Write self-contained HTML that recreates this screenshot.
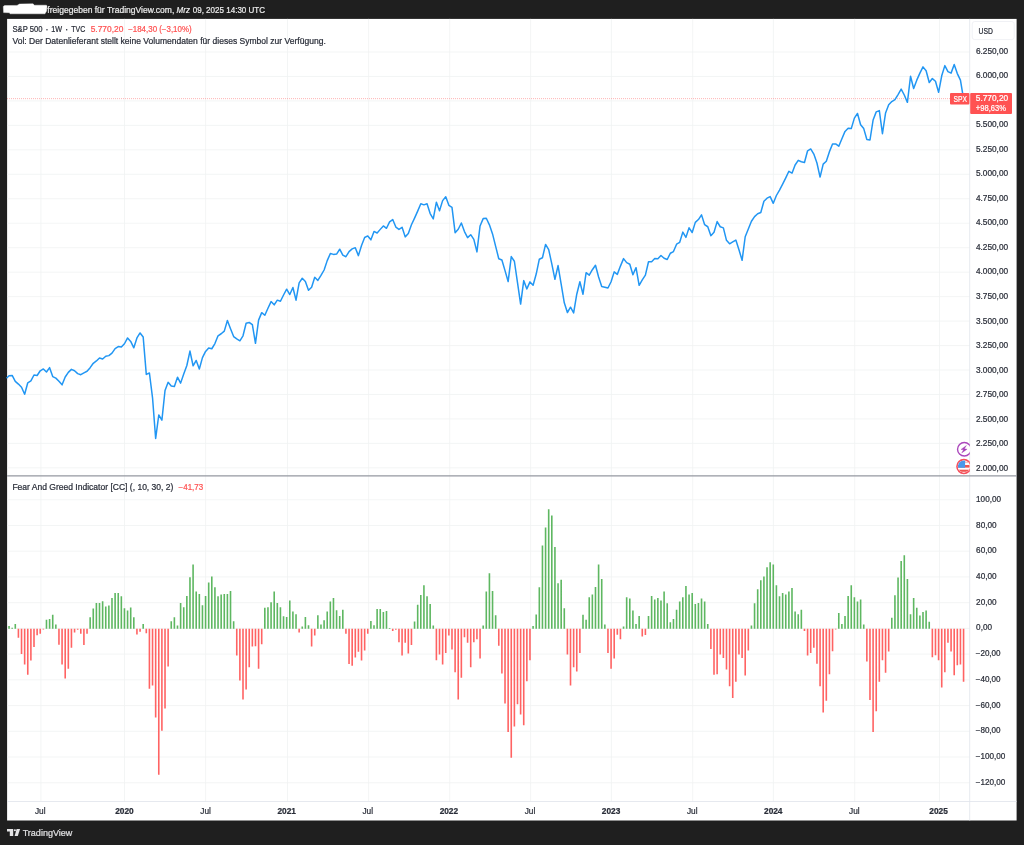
<!DOCTYPE html>
<html><head><meta charset="utf-8"><title>S&amp;P 500 chart</title>
<style>
html,body{margin:0;padding:0;background:#1f1f1f;width:1024px;height:845px;overflow:hidden}
svg{will-change:transform;filter:blur(0.35px)}
svg text{font-family:"Liberation Sans",sans-serif;stroke-width:0.22px;}
</style></head><body>
<svg width="1024" height="845" viewBox="0 0 1024 845" style="position:absolute;left:0;top:0">
<defs>
<clipPath id="cpIcons"><rect x="940" y="440" width="29.8" height="36"/></clipPath>
<clipPath id="cpFlag"><circle cx="963.85" cy="466.5" r="5.9"/></clipPath>
</defs>
<rect x="0" y="0" width="1024" height="845" fill="#1f1f1f"/>
<rect x="7.1" y="18.9" width="1009.5" height="801.6" fill="#fff"/>
<path d="M40.9 18.9V801.5 M124.5 18.9V801.5 M205.6 18.9V801.5 M287.5 18.9V801.5 M368.6 18.9V801.5 M449.7 18.9V801.5 M530.6 18.9V801.5 M611.4 18.9V801.5 M692.7 18.9V801.5 M773.4 18.9V801.5 M854.7 18.9V801.5 M939.5 18.9V801.5 M7.1 467.86H969.7 M7.1 443.40H969.7 M7.1 418.94H969.7 M7.1 394.48H969.7 M7.1 370.01H969.7 M7.1 345.55H969.7 M7.1 321.09H969.7 M7.1 296.62H969.7 M7.1 272.16H969.7 M7.1 247.70H969.7 M7.1 223.24H969.7 M7.1 198.78H969.7 M7.1 174.31H969.7 M7.1 149.85H969.7 M7.1 125.39H969.7 M7.1 100.93H969.7 M7.1 76.46H969.7 M7.1 52.00H969.7 M7.1 782.73H969.7 M7.1 757.01H969.7 M7.1 731.29H969.7 M7.1 705.57H969.7 M7.1 679.84H969.7 M7.1 654.12H969.7 M7.1 628.40H969.7 M7.1 602.68H969.7 M7.1 576.96H969.7 M7.1 551.23H969.7 M7.1 525.51H969.7 M7.1 499.79H969.7" stroke="#f0f2f3" stroke-width="0.8" fill="none"/>
<path d="M969.7 18.9V820.5M7.1 801.5H1016.6" stroke="#e0e3eb" stroke-width="0.8" fill="none"/>
<path d="M8.25 625.9h1.6V628.7h-1.6zM11.37 627.8h1.6V628.7h-1.6zM14.49 623.9h1.6V628.7h-1.6zM45.68 619.7h1.6V628.7h-1.6zM48.80 618.9h1.6V628.7h-1.6zM51.92 614.7h1.6V628.7h-1.6zM55.04 624.4h1.6V628.7h-1.6zM89.35 617.3h1.6V628.7h-1.6zM92.47 608.4h1.6V628.7h-1.6zM95.59 603.0h1.6V628.7h-1.6zM98.71 603.0h1.6V628.7h-1.6zM101.83 601.2h1.6V628.7h-1.6zM104.95 606.4h1.6V628.7h-1.6zM108.07 605.6h1.6V628.7h-1.6zM111.19 598.1h1.6V628.7h-1.6zM114.31 593.1h1.6V628.7h-1.6zM117.43 593.1h1.6V628.7h-1.6zM120.54 596.2h1.6V628.7h-1.6zM123.66 608.3h1.6V628.7h-1.6zM126.78 610.6h1.6V628.7h-1.6zM129.90 607.5h1.6V628.7h-1.6zM133.02 617.3h1.6V628.7h-1.6zM142.38 623.9h1.6V628.7h-1.6zM170.45 621.2h1.6V628.7h-1.6zM173.57 617.3h1.6V628.7h-1.6zM176.69 625.6h1.6V628.7h-1.6zM179.81 603.0h1.6V628.7h-1.6zM182.93 607.2h1.6V628.7h-1.6zM186.05 595.9h1.6V628.7h-1.6zM189.17 577.2h1.6V628.7h-1.6zM192.29 564.5h1.6V628.7h-1.6zM195.41 591.6h1.6V628.7h-1.6zM198.53 593.9h1.6V628.7h-1.6zM201.65 605.2h1.6V628.7h-1.6zM204.77 595.9h1.6V628.7h-1.6zM207.89 582.5h1.6V628.7h-1.6zM211.00 576.4h1.6V628.7h-1.6zM214.12 587.3h1.6V628.7h-1.6zM217.24 596.2h1.6V628.7h-1.6zM220.36 594.4h1.6V628.7h-1.6zM223.48 593.9h1.6V628.7h-1.6zM226.60 593.9h1.6V628.7h-1.6zM229.72 591.1h1.6V628.7h-1.6zM232.84 621.2h1.6V628.7h-1.6zM264.03 607.7h1.6V628.7h-1.6zM267.15 607.2h1.6V628.7h-1.6zM270.27 602.2h1.6V628.7h-1.6zM273.39 591.6h1.6V628.7h-1.6zM276.51 603.0h1.6V628.7h-1.6zM279.63 607.2h1.6V628.7h-1.6zM282.75 616.2h1.6V628.7h-1.6zM285.87 616.9h1.6V628.7h-1.6zM288.99 600.6h1.6V628.7h-1.6zM292.11 611.4h1.6V628.7h-1.6zM295.23 614.2h1.6V628.7h-1.6zM301.46 626.4h1.6V628.7h-1.6zM304.58 616.9h1.6V628.7h-1.6zM307.70 625.2h1.6V628.7h-1.6zM317.06 615.3h1.6V628.7h-1.6zM320.18 624.4h1.6V628.7h-1.6zM323.30 620.2h1.6V628.7h-1.6zM326.42 611.4h1.6V628.7h-1.6zM329.54 601.4h1.6V628.7h-1.6zM332.66 598.1h1.6V628.7h-1.6zM335.78 610.3h1.6V628.7h-1.6zM338.90 616.1h1.6V628.7h-1.6zM342.02 609.8h1.6V628.7h-1.6zM370.09 620.9h1.6V628.7h-1.6zM373.21 625.2h1.6V628.7h-1.6zM376.33 609.1h1.6V628.7h-1.6zM379.45 609.1h1.6V628.7h-1.6zM382.57 611.9h1.6V628.7h-1.6zM385.69 611.1h1.6V628.7h-1.6zM388.80 628.0h1.6V628.7h-1.6zM413.76 621.6h1.6V628.7h-1.6zM416.88 604.8h1.6V628.7h-1.6zM420.00 595.0h1.6V628.7h-1.6zM423.12 585.3h1.6V628.7h-1.6zM426.24 596.2h1.6V628.7h-1.6zM429.36 604.1h1.6V628.7h-1.6zM432.47 625.6h1.6V628.7h-1.6zM482.38 625.6h1.6V628.7h-1.6zM485.50 591.6h1.6V628.7h-1.6zM488.62 573.3h1.6V628.7h-1.6zM491.74 591.1h1.6V628.7h-1.6zM494.86 615.3h1.6V628.7h-1.6zM532.29 625.9h1.6V628.7h-1.6zM535.41 614.5h1.6V628.7h-1.6zM538.53 587.3h1.6V628.7h-1.6zM541.65 545.5h1.6V628.7h-1.6zM544.77 527.5h1.6V628.7h-1.6zM547.89 509.2h1.6V628.7h-1.6zM551.01 515.5h1.6V628.7h-1.6zM554.13 547.0h1.6V628.7h-1.6zM557.25 583.3h1.6V628.7h-1.6zM560.37 579.8h1.6V628.7h-1.6zM563.49 608.3h1.6V628.7h-1.6zM582.20 614.7h1.6V628.7h-1.6zM585.32 619.7h1.6V628.7h-1.6zM588.44 597.3h1.6V628.7h-1.6zM591.56 594.4h1.6V628.7h-1.6zM594.68 586.9h1.6V628.7h-1.6zM597.80 564.5h1.6V628.7h-1.6zM600.92 579.1h1.6V628.7h-1.6zM604.04 624.4h1.6V628.7h-1.6zM622.75 626.4h1.6V628.7h-1.6zM625.87 597.3h1.6V628.7h-1.6zM628.99 598.6h1.6V628.7h-1.6zM632.11 610.6h1.6V628.7h-1.6zM635.23 624.1h1.6V628.7h-1.6zM638.35 616.1h1.6V628.7h-1.6zM647.71 616.1h1.6V628.7h-1.6zM650.83 595.9h1.6V628.7h-1.6zM653.95 599.4h1.6V628.7h-1.6zM657.06 598.1h1.6V628.7h-1.6zM660.18 600.6h1.6V628.7h-1.6zM663.30 591.6h1.6V628.7h-1.6zM666.42 603.3h1.6V628.7h-1.6zM669.54 622.3h1.6V628.7h-1.6zM672.66 618.9h1.6V628.7h-1.6zM675.78 609.8h1.6V628.7h-1.6zM678.90 601.4h1.6V628.7h-1.6zM682.02 597.3h1.6V628.7h-1.6zM685.14 586.1h1.6V628.7h-1.6zM688.26 594.4h1.6V628.7h-1.6zM691.38 593.1h1.6V628.7h-1.6zM694.50 604.1h1.6V628.7h-1.6zM697.62 603.0h1.6V628.7h-1.6zM700.73 598.6h1.6V628.7h-1.6zM703.85 601.4h1.6V628.7h-1.6zM706.97 624.1h1.6V628.7h-1.6zM750.64 625.5h1.6V628.7h-1.6zM753.76 603.3h1.6V628.7h-1.6zM756.88 589.2h1.6V628.7h-1.6zM760.00 580.3h1.6V628.7h-1.6zM763.12 576.4h1.6V628.7h-1.6zM766.24 567.3h1.6V628.7h-1.6zM769.36 562.3h1.6V628.7h-1.6zM772.48 564.5h1.6V628.7h-1.6zM775.60 585.3h1.6V628.7h-1.6zM778.72 596.2h1.6V628.7h-1.6zM781.84 593.1h1.6V628.7h-1.6zM784.96 594.4h1.6V628.7h-1.6zM788.08 591.6h1.6V628.7h-1.6zM791.19 588.1h1.6V628.7h-1.6zM794.31 611.4h1.6V628.7h-1.6zM797.43 614.2h1.6V628.7h-1.6zM800.55 609.8h1.6V628.7h-1.6zM837.98 613.1h1.6V628.7h-1.6zM841.10 624.1h1.6V628.7h-1.6zM844.22 616.1h1.6V628.7h-1.6zM847.34 595.9h1.6V628.7h-1.6zM850.46 585.3h1.6V628.7h-1.6zM853.58 597.3h1.6V628.7h-1.6zM856.70 601.4h1.6V628.7h-1.6zM859.82 599.4h1.6V628.7h-1.6zM862.94 624.4h1.6V628.7h-1.6zM891.01 617.7h1.6V628.7h-1.6zM894.13 595.2h1.6V628.7h-1.6zM897.25 577.5h1.6V628.7h-1.6zM900.37 561.1h1.6V628.7h-1.6zM903.49 555.3h1.6V628.7h-1.6zM906.61 579.1h1.6V628.7h-1.6zM909.73 614.2h1.6V628.7h-1.6zM912.85 598.1h1.6V628.7h-1.6zM915.97 607.7h1.6V628.7h-1.6zM919.09 615.5h1.6V628.7h-1.6zM922.20 611.9h1.6V628.7h-1.6zM925.32 610.6h1.6V628.7h-1.6zM928.44 621.7h1.6V628.7h-1.6z" fill="#4caf50" fill-opacity="0.9"/>
<path d="M17.61 628.7h1.6V637.7h-1.6zM20.73 628.7h1.6V653.9h-1.6zM23.85 628.7h1.6V664.5h-1.6zM26.97 628.7h1.6V674.7h-1.6zM30.09 628.7h1.6V660.5h-1.6zM33.20 628.7h1.6V647.0h-1.6zM36.32 628.7h1.6V635.3h-1.6zM39.44 628.7h1.6V633.8h-1.6zM42.56 628.7h1.6V629.5h-1.6zM58.16 628.7h1.6V644.7h-1.6zM61.28 628.7h1.6V664.5h-1.6zM64.40 628.7h1.6V678.6h-1.6zM67.52 628.7h1.6V668.8h-1.6zM70.64 628.7h1.6V647.8h-1.6zM73.76 628.7h1.6V632.5h-1.6zM76.87 628.7h1.6V629.7h-1.6zM79.99 628.7h1.6V633.8h-1.6zM83.11 628.7h1.6V645.0h-1.6zM86.23 628.7h1.6V633.8h-1.6zM136.14 628.7h1.6V634.5h-1.6zM139.26 628.7h1.6V631.7h-1.6zM145.50 628.7h1.6V633.3h-1.6zM148.62 628.7h1.6V688.8h-1.6zM151.74 628.7h1.6V685.5h-1.6zM154.86 628.7h1.6V717.5h-1.6zM157.98 628.7h1.6V774.7h-1.6zM161.10 628.7h1.6V730.8h-1.6zM164.22 628.7h1.6V708.6h-1.6zM167.33 628.7h1.6V666.4h-1.6zM235.96 628.7h1.6V655.5h-1.6zM239.08 628.7h1.6V680.5h-1.6zM242.20 628.7h1.6V699.5h-1.6zM245.32 628.7h1.6V689.5h-1.6zM248.44 628.7h1.6V667.2h-1.6zM251.56 628.7h1.6V646.6h-1.6zM254.67 628.7h1.6V646.2h-1.6zM257.79 628.7h1.6V668.8h-1.6zM260.91 628.7h1.6V644.2h-1.6zM298.34 628.7h1.6V632.5h-1.6zM310.82 628.7h1.6V646.6h-1.6zM313.94 628.7h1.6V635.6h-1.6zM345.13 628.7h1.6V633.8h-1.6zM348.25 628.7h1.6V663.9h-1.6zM351.37 628.7h1.6V665.8h-1.6zM354.49 628.7h1.6V657.5h-1.6zM357.61 628.7h1.6V651.7h-1.6zM360.73 628.7h1.6V660.6h-1.6zM363.85 628.7h1.6V650.6h-1.6zM366.97 628.7h1.6V633.8h-1.6zM391.92 628.7h1.6V630.9h-1.6zM395.04 628.7h1.6V629.7h-1.6zM398.16 628.7h1.6V642.3h-1.6zM401.28 628.7h1.6V655.6h-1.6zM404.40 628.7h1.6V642.7h-1.6zM407.52 628.7h1.6V653.6h-1.6zM410.64 628.7h1.6V645.0h-1.6zM435.59 628.7h1.6V660.2h-1.6zM438.71 628.7h1.6V654.4h-1.6zM441.83 628.7h1.6V664.5h-1.6zM444.95 628.7h1.6V653.1h-1.6zM448.07 628.7h1.6V635.6h-1.6zM451.19 628.7h1.6V649.4h-1.6zM454.31 628.7h1.6V672.2h-1.6zM457.43 628.7h1.6V699.5h-1.6zM460.55 628.7h1.6V677.7h-1.6zM463.67 628.7h1.6V637.2h-1.6zM466.79 628.7h1.6V642.8h-1.6zM469.91 628.7h1.6V667.2h-1.6zM473.03 628.7h1.6V642.3h-1.6zM476.14 628.7h1.6V639.2h-1.6zM479.26 628.7h1.6V658.6h-1.6zM497.98 628.7h1.6V645.8h-1.6zM501.10 628.7h1.6V673.4h-1.6zM504.22 628.7h1.6V703.6h-1.6zM507.34 628.7h1.6V732.0h-1.6zM510.46 628.7h1.6V757.8h-1.6zM513.58 628.7h1.6V726.6h-1.6zM516.70 628.7h1.6V704.2h-1.6zM519.82 628.7h1.6V714.4h-1.6zM522.93 628.7h1.6V725.3h-1.6zM526.05 628.7h1.6V681.2h-1.6zM529.17 628.7h1.6V660.2h-1.6zM566.60 628.7h1.6V654.4h-1.6zM569.72 628.7h1.6V685.5h-1.6zM572.84 628.7h1.6V667.2h-1.6zM575.96 628.7h1.6V671.4h-1.6zM579.08 628.7h1.6V653.1h-1.6zM607.16 628.7h1.6V653.1h-1.6zM610.27 628.7h1.6V668.8h-1.6zM613.39 628.7h1.6V658.6h-1.6zM616.51 628.7h1.6V634.8h-1.6zM619.63 628.7h1.6V639.2h-1.6zM641.47 628.7h1.6V636.4h-1.6zM644.59 628.7h1.6V635.0h-1.6zM710.09 628.7h1.6V649.1h-1.6zM713.21 628.7h1.6V674.7h-1.6zM716.33 628.7h1.6V674.2h-1.6zM719.45 628.7h1.6V654.4h-1.6zM722.57 628.7h1.6V658.1h-1.6zM725.69 628.7h1.6V669.5h-1.6zM728.81 628.7h1.6V686.2h-1.6zM731.93 628.7h1.6V698.0h-1.6zM735.05 628.7h1.6V681.7h-1.6zM738.17 628.7h1.6V654.4h-1.6zM741.29 628.7h1.6V658.1h-1.6zM744.40 628.7h1.6V675.5h-1.6zM747.52 628.7h1.6V650.5h-1.6zM803.67 628.7h1.6V630.9h-1.6zM806.79 628.7h1.6V655.5h-1.6zM809.91 628.7h1.6V653.1h-1.6zM813.03 628.7h1.6V647.7h-1.6zM816.15 628.7h1.6V663.8h-1.6zM819.27 628.7h1.6V686.2h-1.6zM822.39 628.7h1.6V712.5h-1.6zM825.51 628.7h1.6V700.8h-1.6zM828.63 628.7h1.6V674.2h-1.6zM831.75 628.7h1.6V651.2h-1.6zM834.86 628.7h1.6V629.4h-1.6zM866.06 628.7h1.6V661.4h-1.6zM869.18 628.7h1.6V700.0h-1.6zM872.30 628.7h1.6V732.0h-1.6zM875.42 628.7h1.6V711.2h-1.6zM878.53 628.7h1.6V681.7h-1.6zM881.65 628.7h1.6V660.2h-1.6zM884.77 628.7h1.6V672.7h-1.6zM887.89 628.7h1.6V651.6h-1.6zM931.56 628.7h1.6V657.3h-1.6zM934.68 628.7h1.6V655.2h-1.6zM937.80 628.7h1.6V660.2h-1.6zM940.92 628.7h1.6V687.5h-1.6zM944.04 628.7h1.6V672.2h-1.6zM947.16 628.7h1.6V642.7h-1.6zM950.28 628.7h1.6V651.6h-1.6zM953.40 628.7h1.6V675.3h-1.6zM956.52 628.7h1.6V665.2h-1.6zM959.64 628.7h1.6V664.5h-1.6zM962.76 628.7h1.6V681.7h-1.6z" fill="#ff5252" fill-opacity="0.9"/>
<path d="M7.1 98.65H950" stroke="#ff5252" stroke-width="1" stroke-dasharray="0.8 1.2" stroke-opacity="0.55" fill="none"/>
<path d="M7.00 377.80 L9.05 375.78 L12.17 375.47 L15.29 381.41 L18.41 384.06 L21.53 387.19 L24.65 394.22 L27.77 382.81 L30.89 380.94 L34.00 375.00 L37.12 375.47 L40.24 370.78 L43.36 368.91 L46.48 372.03 L49.60 367.66 L52.72 376.56 L55.84 378.12 L58.96 381.25 L62.08 384.84 L65.20 377.03 L68.32 372.34 L71.44 369.38 L74.56 370.78 L77.67 373.59 L80.79 374.69 L83.91 372.81 L87.03 371.25 L90.15 367.66 L93.27 363.28 L96.39 360.94 L99.51 357.97 L102.63 359.06 L105.75 356.25 L108.87 355.62 L111.99 353.12 L115.11 348.59 L118.23 346.56 L121.34 347.03 L124.46 343.75 L127.58 337.97 L130.70 341.41 L133.82 347.81 L136.94 337.97 L140.06 332.97 L143.18 337.03 L146.30 374.38 L149.42 372.97 L152.54 397.81 L155.66 438.44 L158.78 415.00 L161.90 420.16 L165.02 390.47 L168.13 382.34 L171.25 386.09 L174.37 386.56 L177.49 377.19 L180.61 383.12 L183.73 374.06 L186.85 365.47 L189.97 351.09 L193.09 365.78 L196.21 360.47 L199.33 369.06 L202.45 357.66 L205.57 351.41 L208.69 347.97 L211.80 348.75 L214.92 343.59 L218.04 335.78 L221.16 333.75 L224.28 331.09 L227.40 320.47 L230.52 328.75 L233.64 336.56 L236.76 338.91 L239.88 340.78 L243.00 335.78 L246.12 323.28 L249.24 322.50 L252.36 324.53 L255.47 343.28 L258.59 320.16 L261.71 312.66 L264.83 315.23 L267.95 308.28 L271.07 301.56 L274.19 304.84 L277.31 300.16 L280.43 301.25 L283.55 295.00 L286.67 289.22 L289.79 294.53 L292.91 287.50 L296.03 300.16 L299.14 282.81 L302.26 278.28 L305.38 281.41 L308.50 290.31 L311.62 287.19 L314.74 277.34 L317.86 280.47 L320.98 275.47 L324.10 270.00 L327.22 260.62 L330.34 253.59 L333.46 254.38 L336.58 254.06 L339.70 249.22 L342.82 255.16 L345.93 256.72 L349.05 251.56 L352.17 248.91 L355.29 247.66 L358.41 255.62 L361.53 245.47 L364.65 237.50 L367.77 235.94 L370.89 239.84 L374.01 231.41 L377.13 232.97 L380.25 229.38 L383.37 225.94 L386.49 228.28 L389.60 221.88 L392.72 219.53 L395.84 227.03 L398.96 229.38 L402.08 227.27 L405.20 236.88 L408.32 233.52 L411.44 224.77 L414.56 218.12 L417.68 211.09 L420.80 203.75 L423.92 204.84 L427.04 203.75 L430.16 213.59 L433.27 218.91 L436.39 202.19 L439.51 210.78 L442.63 200.62 L445.75 196.72 L448.87 205.31 L451.99 207.34 L455.11 232.66 L458.23 229.22 L461.35 222.97 L464.47 231.56 L467.59 237.66 L470.71 234.69 L473.83 239.38 L476.94 251.88 L480.06 225.94 L483.18 218.59 L486.30 218.28 L489.42 224.84 L492.54 233.91 L495.66 246.41 L498.78 258.75 L501.90 260.00 L505.02 270.62 L508.14 281.56 L511.26 256.56 L514.38 261.25 L517.50 282.66 L520.62 304.06 L523.73 280.62 L526.85 288.91 L529.97 281.88 L533.09 285.31 L536.21 274.06 L539.33 259.22 L542.45 257.73 L545.57 244.45 L548.69 249.61 L551.81 263.83 L554.93 279.30 L558.05 265.55 L561.17 284.06 L564.29 302.81 L567.40 312.50 L570.52 307.19 L573.64 312.97 L576.76 294.22 L579.88 281.72 L583.00 294.22 L586.12 272.66 L589.24 275.16 L592.36 269.69 L595.48 265.31 L598.60 277.03 L601.72 286.41 L604.84 287.19 L607.96 287.97 L611.07 281.72 L614.19 271.88 L617.31 274.38 L620.43 266.09 L623.55 258.59 L626.67 262.66 L629.79 264.22 L632.91 274.69 L636.03 267.66 L639.15 285.31 L642.27 279.84 L645.39 275.16 L648.51 261.72 L651.63 261.72 L654.75 258.59 L657.86 258.75 L660.98 255.47 L664.10 258.28 L667.22 259.53 L670.34 253.28 L673.46 251.56 L676.58 244.22 L679.70 242.34 L682.82 232.12 L685.94 237.36 L689.06 227.83 L692.18 232.52 L695.30 222.36 L698.42 219.55 L701.53 214.88 L704.65 224.72 L707.77 226.75 L710.89 235.66 L714.01 232.22 L717.13 221.59 L720.25 226.75 L723.37 227.84 L726.49 240.34 L729.61 243.78 L732.73 241.91 L735.85 240.03 L738.97 249.72 L742.09 260.34 L745.20 236.75 L748.32 229.09 L751.44 221.28 L754.56 216.59 L757.68 213.78 L760.80 212.53 L763.92 201.28 L767.04 198.16 L770.16 196.59 L773.28 203.31 L776.40 195.50 L779.52 190.03 L782.64 184.09 L785.76 177.84 L788.88 171.28 L791.99 173.16 L795.11 165.03 L798.23 160.34 L801.35 161.75 L804.47 162.53 L807.59 150.81 L810.71 148.94 L813.83 154.09 L816.95 163.00 L820.07 177.06 L823.19 164.16 L826.31 161.27 L829.43 151.66 L832.55 144.08 L835.66 143.92 L838.78 146.19 L841.90 138.75 L845.02 131.41 L848.14 128.28 L851.26 128.59 L854.38 118.12 L857.50 113.44 L860.62 124.69 L863.74 128.59 L866.86 139.53 L869.98 140.00 L873.10 120.00 L876.22 111.88 L879.33 110.62 L882.45 133.75 L885.57 112.97 L888.69 104.84 L891.81 101.56 L894.93 99.69 L898.05 94.53 L901.17 89.06 L904.29 95.00 L907.41 102.34 L910.53 76.25 L913.65 88.44 L916.77 80.16 L919.89 73.12 L923.00 66.88 L926.12 70.78 L929.24 82.50 L932.36 78.59 L935.48 81.25 L938.60 92.34 L941.72 75.78 L944.84 65.62 L947.96 71.56 L951.08 73.12 L954.20 64.53 L957.32 73.59 L960.44 80.16 L963.56 98.80" stroke="#2196f3" stroke-width="1.5" fill="none" stroke-linejoin="round" stroke-linecap="round"/>
<path d="M7.1 475.9H1016.6" stroke="#9598a1" stroke-width="1.4" fill="none"/>

<g clip-path="url(#cpIcons)">
<circle cx="964.3" cy="449.2" r="6.75" fill="#fff" stroke="#ab47bc" stroke-width="1.4"/>
<path d="M966.4 445.5 L961.0 449.4 L963.6 449.8 L961.7 452.9 L967.1 449.2 L964.4 448.7 Z" fill="#a63cb8" stroke="#a63cb8" stroke-width="0.35" stroke-linejoin="round"/>
<circle cx="963.85" cy="466.5" r="6.9" fill="#fff" stroke="#f7525f" stroke-width="1.6"/>
<g clip-path="url(#cpFlag)">
<rect x="957" y="460" width="14" height="13" fill="#fff"/>
<rect x="957" y="461.6" width="14" height="1.1" fill="#f5a3a3"/>
<rect x="957" y="465.0" width="14" height="2.6" fill="#ef5350"/>
<rect x="957" y="469.7" width="14" height="2.1" fill="#ef5350"/>
<rect x="957" y="460" width="8.1" height="7.8" fill="#4a98ea"/>
</g>
</g>


<rect x="972.2" y="21.5" width="42" height="18.1" rx="2.5" fill="#fff" stroke="#eceef2" stroke-width="0.8"/>
<rect x="950" y="92.9" width="19.4" height="11.5" rx="1" fill="#ff5252"/>
<rect x="970.2" y="92.9" width="41.8" height="21" rx="1" fill="#ff5252"/>

<text x="47.30" y="13.30" font-size="8.7" fill="#ececec" stroke="#ececec" font-weight="normal" font-style="normal" textLength="127.00" lengthAdjust="spacingAndGlyphs">freigegeben für TradingView.com,</text>
<text x="176.60" y="13.30" font-size="8.7" fill="#ececec" stroke="#ececec" font-weight="normal" font-style="italic" textLength="13.30" lengthAdjust="spacingAndGlyphs">Mrz</text>
<text x="192.70" y="13.30" font-size="8.7" fill="#ececec" stroke="#ececec" font-weight="normal" font-style="normal" textLength="72.40" lengthAdjust="spacingAndGlyphs">09, 2025 14:30 UTC</text>
<text x="12.50" y="31.90" font-size="8.3" fill="#2a2e39" stroke="#2a2e39" font-weight="normal" font-style="normal" textLength="30.00" lengthAdjust="spacingAndGlyphs">S&amp;P 500</text>
<text x="51.25" y="31.90" font-size="8.3" fill="#2a2e39" stroke="#2a2e39" font-weight="normal" font-style="normal" textLength="10.85" lengthAdjust="spacingAndGlyphs">1W</text>
<text x="71.25" y="31.90" font-size="8.3" fill="#2a2e39" stroke="#2a2e39" font-weight="normal" font-style="normal" textLength="14.00" lengthAdjust="spacingAndGlyphs">TVC</text>
<rect x="46.3" y="29.1" width="1.3" height="1.3" fill="#2a2e39"/><rect x="66.0" y="29.1" width="1.3" height="1.3" fill="#2a2e39"/>
<text x="90.70" y="31.90" font-size="8.3" fill="#ff5252" stroke="#ff5252" font-weight="normal" font-style="normal" textLength="32.60" lengthAdjust="spacingAndGlyphs">5.770,20</text>
<text x="128.20" y="31.90" font-size="8.3" fill="#ff5252" stroke="#ff5252" font-weight="normal" font-style="normal" textLength="63.40" lengthAdjust="spacingAndGlyphs">−184,30 (−3,10%)</text>
<text x="12.50" y="43.50" font-size="8.3" fill="#2a2e39" stroke="#2a2e39" font-weight="normal" font-style="normal" textLength="313.30" lengthAdjust="spacingAndGlyphs">Vol: Der Datenlieferant stellt keine Volumendaten für dieses Symbol zur Verfügung.</text>
<text x="12.40" y="489.60" font-size="8.3" fill="#2a2e39" stroke="#2a2e39" font-weight="normal" font-style="normal" textLength="161.00" lengthAdjust="spacingAndGlyphs">Fear And Greed Indicator [CC] (, 10, 30, 2)</text>
<text x="178.60" y="489.60" font-size="8.3" fill="#ff5252" stroke="#ff5252" font-weight="normal" font-style="normal" textLength="24.60" lengthAdjust="spacingAndGlyphs">−41,73</text>
<text x="975.90" y="470.68" font-size="8.3" fill="#2a2e39" stroke="#2a2e39" font-weight="normal" font-style="normal" textLength="32.20" lengthAdjust="spacingAndGlyphs">2.000,00</text>
<text x="975.90" y="446.15" font-size="8.3" fill="#2a2e39" stroke="#2a2e39" font-weight="normal" font-style="normal" textLength="32.20" lengthAdjust="spacingAndGlyphs">2.250,00</text>
<text x="975.90" y="421.62" font-size="8.3" fill="#2a2e39" stroke="#2a2e39" font-weight="normal" font-style="normal" textLength="32.20" lengthAdjust="spacingAndGlyphs">2.500,00</text>
<text x="975.90" y="397.09" font-size="8.3" fill="#2a2e39" stroke="#2a2e39" font-weight="normal" font-style="normal" textLength="32.20" lengthAdjust="spacingAndGlyphs">2.750,00</text>
<text x="975.90" y="372.56" font-size="8.3" fill="#2a2e39" stroke="#2a2e39" font-weight="normal" font-style="normal" textLength="32.20" lengthAdjust="spacingAndGlyphs">3.000,00</text>
<text x="975.90" y="348.03" font-size="8.3" fill="#2a2e39" stroke="#2a2e39" font-weight="normal" font-style="normal" textLength="32.20" lengthAdjust="spacingAndGlyphs">3.250,00</text>
<text x="975.90" y="323.50" font-size="8.3" fill="#2a2e39" stroke="#2a2e39" font-weight="normal" font-style="normal" textLength="32.20" lengthAdjust="spacingAndGlyphs">3.500,00</text>
<text x="975.90" y="298.97" font-size="8.3" fill="#2a2e39" stroke="#2a2e39" font-weight="normal" font-style="normal" textLength="32.20" lengthAdjust="spacingAndGlyphs">3.750,00</text>
<text x="975.90" y="274.44" font-size="8.3" fill="#2a2e39" stroke="#2a2e39" font-weight="normal" font-style="normal" textLength="32.20" lengthAdjust="spacingAndGlyphs">4.000,00</text>
<text x="975.90" y="249.91" font-size="8.3" fill="#2a2e39" stroke="#2a2e39" font-weight="normal" font-style="normal" textLength="32.20" lengthAdjust="spacingAndGlyphs">4.250,00</text>
<text x="975.90" y="225.38" font-size="8.3" fill="#2a2e39" stroke="#2a2e39" font-weight="normal" font-style="normal" textLength="32.20" lengthAdjust="spacingAndGlyphs">4.500,00</text>
<text x="975.90" y="200.85" font-size="8.3" fill="#2a2e39" stroke="#2a2e39" font-weight="normal" font-style="normal" textLength="32.20" lengthAdjust="spacingAndGlyphs">4.750,00</text>
<text x="975.90" y="176.32" font-size="8.3" fill="#2a2e39" stroke="#2a2e39" font-weight="normal" font-style="normal" textLength="32.20" lengthAdjust="spacingAndGlyphs">5.000,00</text>
<text x="975.90" y="151.79" font-size="8.3" fill="#2a2e39" stroke="#2a2e39" font-weight="normal" font-style="normal" textLength="32.20" lengthAdjust="spacingAndGlyphs">5.250,00</text>
<text x="975.90" y="127.26" font-size="8.3" fill="#2a2e39" stroke="#2a2e39" font-weight="normal" font-style="normal" textLength="32.20" lengthAdjust="spacingAndGlyphs">5.500,00</text>
<text x="975.90" y="78.20" font-size="8.3" fill="#2a2e39" stroke="#2a2e39" font-weight="normal" font-style="normal" textLength="32.20" lengthAdjust="spacingAndGlyphs">6.000,00</text>
<text x="975.90" y="53.67" font-size="8.3" fill="#2a2e39" stroke="#2a2e39" font-weight="normal" font-style="normal" textLength="32.20" lengthAdjust="spacingAndGlyphs">6.250,00</text>
<text x="975.70" y="784.73" font-size="8.3" fill="#2a2e39" stroke="#2a2e39" font-weight="normal" font-style="normal" textLength="29.70" lengthAdjust="spacingAndGlyphs">−120,00</text>
<text x="975.70" y="759.01" font-size="8.3" fill="#2a2e39" stroke="#2a2e39" font-weight="normal" font-style="normal" textLength="29.70" lengthAdjust="spacingAndGlyphs">−100,00</text>
<text x="975.70" y="733.29" font-size="8.3" fill="#2a2e39" stroke="#2a2e39" font-weight="normal" font-style="normal" textLength="24.90" lengthAdjust="spacingAndGlyphs">−80,00</text>
<text x="975.70" y="707.57" font-size="8.3" fill="#2a2e39" stroke="#2a2e39" font-weight="normal" font-style="normal" textLength="24.90" lengthAdjust="spacingAndGlyphs">−60,00</text>
<text x="975.70" y="681.84" font-size="8.3" fill="#2a2e39" stroke="#2a2e39" font-weight="normal" font-style="normal" textLength="24.90" lengthAdjust="spacingAndGlyphs">−40,00</text>
<text x="975.70" y="656.12" font-size="8.3" fill="#2a2e39" stroke="#2a2e39" font-weight="normal" font-style="normal" textLength="24.90" lengthAdjust="spacingAndGlyphs">−20,00</text>
<text x="976.10" y="630.40" font-size="8.3" fill="#2a2e39" stroke="#2a2e39" font-weight="normal" font-style="normal" textLength="15.90" lengthAdjust="spacingAndGlyphs">0,00</text>
<text x="976.10" y="604.68" font-size="8.3" fill="#2a2e39" stroke="#2a2e39" font-weight="normal" font-style="normal" textLength="20.50" lengthAdjust="spacingAndGlyphs">20,00</text>
<text x="976.10" y="578.96" font-size="8.3" fill="#2a2e39" stroke="#2a2e39" font-weight="normal" font-style="normal" textLength="20.50" lengthAdjust="spacingAndGlyphs">40,00</text>
<text x="976.10" y="553.23" font-size="8.3" fill="#2a2e39" stroke="#2a2e39" font-weight="normal" font-style="normal" textLength="20.50" lengthAdjust="spacingAndGlyphs">60,00</text>
<text x="976.10" y="527.51" font-size="8.3" fill="#2a2e39" stroke="#2a2e39" font-weight="normal" font-style="normal" textLength="20.50" lengthAdjust="spacingAndGlyphs">80,00</text>
<text x="976.10" y="501.79" font-size="8.3" fill="#2a2e39" stroke="#2a2e39" font-weight="normal" font-style="normal" textLength="24.90" lengthAdjust="spacingAndGlyphs">100,00</text>
<text x="40.24" y="813.60" font-size="8.3" fill="#2a2e39" stroke="#2a2e39" font-weight="normal" font-style="normal" text-anchor="middle">Jul</text>
<text x="124.46" y="813.60" font-size="8.3" fill="#2a2e39" stroke="#2a2e39" font-weight="bold" font-style="normal" text-anchor="middle">2020</text>
<text x="205.57" y="813.60" font-size="8.3" fill="#2a2e39" stroke="#2a2e39" font-weight="normal" font-style="normal" text-anchor="middle">Jul</text>
<text x="286.67" y="813.60" font-size="8.3" fill="#2a2e39" stroke="#2a2e39" font-weight="bold" font-style="normal" text-anchor="middle">2021</text>
<text x="367.77" y="813.60" font-size="8.3" fill="#2a2e39" stroke="#2a2e39" font-weight="normal" font-style="normal" text-anchor="middle">Jul</text>
<text x="448.87" y="813.60" font-size="8.3" fill="#2a2e39" stroke="#2a2e39" font-weight="bold" font-style="normal" text-anchor="middle">2022</text>
<text x="529.97" y="813.60" font-size="8.3" fill="#2a2e39" stroke="#2a2e39" font-weight="normal" font-style="normal" text-anchor="middle">Jul</text>
<text x="611.07" y="813.60" font-size="8.3" fill="#2a2e39" stroke="#2a2e39" font-weight="bold" font-style="normal" text-anchor="middle">2023</text>
<text x="692.18" y="813.60" font-size="8.3" fill="#2a2e39" stroke="#2a2e39" font-weight="normal" font-style="normal" text-anchor="middle">Jul</text>
<text x="773.28" y="813.60" font-size="8.3" fill="#2a2e39" stroke="#2a2e39" font-weight="bold" font-style="normal" text-anchor="middle">2024</text>
<text x="854.38" y="813.60" font-size="8.3" fill="#2a2e39" stroke="#2a2e39" font-weight="normal" font-style="normal" text-anchor="middle">Jul</text>
<text x="938.60" y="813.60" font-size="8.3" fill="#2a2e39" stroke="#2a2e39" font-weight="bold" font-style="normal" text-anchor="middle">2025</text>
<text x="978.60" y="33.90" font-size="8.3" fill="#2a2e39" stroke="#2a2e39" font-weight="normal" font-style="normal" textLength="14.30" lengthAdjust="spacingAndGlyphs">USD</text>
<text x="22.70" y="835.80" font-size="9" fill="#e0e0e2" stroke="#e0e0e2" font-weight="normal" font-style="normal" textLength="49.60" lengthAdjust="spacingAndGlyphs">TradingView</text>
<text x="953.50" y="101.60" font-size="8.3" fill="#fff" stroke="#fff" font-weight="normal" font-style="normal" textLength="13.40" lengthAdjust="spacingAndGlyphs">SPX</text>
<text x="975.85" y="101.30" font-size="8.3" fill="#fff" stroke="#fff" font-weight="normal" font-style="normal" textLength="32.25" lengthAdjust="spacingAndGlyphs">5.770,20</text>
<text x="975.85" y="110.90" font-size="8.3" fill="#fff" stroke="#fff" font-weight="normal" font-style="normal" textLength="30.05" lengthAdjust="spacingAndGlyphs">+98,63%</text>

<path d="M3.3 6.4 L4.6 5.6 L17 5.4 L19.5 4.0 L33 3.8 L34.5 5.2 L46.4 5.2 L47 6 L46.6 11 L45 13.8 L10 13.8 L9.5 12.7 L3.6 12.6 Z" fill="#fff" stroke="#fff" stroke-width="0.4" stroke-linejoin="round"/>
<g fill="#e4e4e6">
<path d="M7.0 829.1 H13.2 V835.9 H9.8 V831.6 H7.0 Z"/>
<circle cx="14.9" cy="830.2" r="1.05"/>
<path d="M16.6 829.1 H20.1 L17.8 835.9 H14.6 Z"/>
</g>

</svg>
</body></html>
